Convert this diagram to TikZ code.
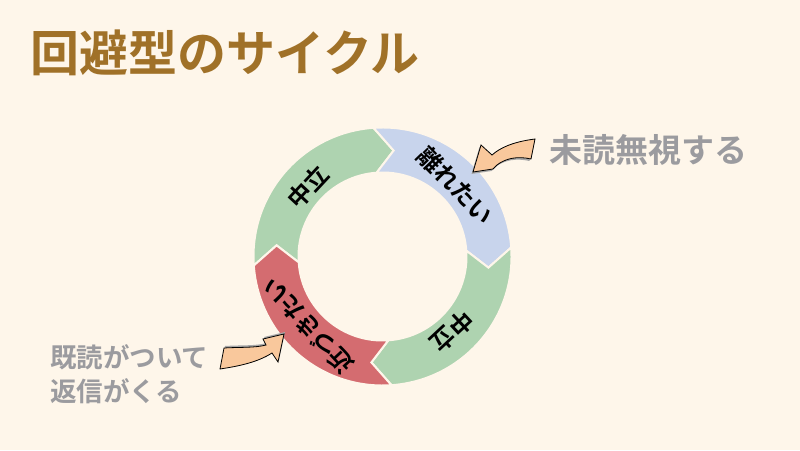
\documentclass[tikz,border=0pt]{standalone}
\usepackage{fontspec}
\setmainfont{Noto Sans CJK JP}[BoldFont={Noto Sans CJK JP Bold}]
\definecolor{paper}{HTML}{FEF6EA}
\definecolor{titlebrown}{HTML}{A07128}
\definecolor{notegray}{HTML}{9B9B9F}
\definecolor{calmgreen}{HTML}{AED3B0}
\definecolor{awayblue}{HTML}{C8D4EC}
\definecolor{nearred}{HTML}{D46C70}
\definecolor{peach}{HTML}{F9C89C}
\begin{document}
\begin{tikzpicture}[
  x=1pt, y=1pt,
  seg/.style={draw=paper, line width=2pt, line join=miter},
  seglbl/.style={font=\fontsize{24}{24}\selectfont\bfseries, inner sep=0pt},
  note/.style={font=\fontsize{26.5}{34}\selectfont\bfseries, text=notegray, align=left, inner sep=0pt, anchor=west},
  callout/.style={fill=peach, draw=black, line width=0.8pt, line join=miter},
  calloutshadow/.style={fill=black!35}
]
\useasboundingbox (0,0) rectangle (800,450);
\fill[paper] (0,0) rectangle (800,450);

% title
\node[font=\fontsize{49}{49}\selectfont\bfseries, text=titlebrown, anchor=west, inner sep=0pt] (title) at (30,397) {回避型のサイクル};

% ring of four arrow segments
\coordinate (c) at (382.5,193.5);
\path[seg, fill=calmgreen, shift={(c)}] (184:129) arc[start angle=184, end angle=94, radius=129pt] -- (84:106.5) -- (94:84) arc[start angle=94, end angle=184, radius=84pt] -- (174:106.5) -- cycle;
\path[seg, fill=awayblue, shift={(c)}] (94:129) arc[start angle=94, end angle=4, radius=129pt] -- (-6:106.5) -- (4:84) arc[start angle=4, end angle=94, radius=84pt] -- (84:106.5) -- cycle;
\path[seg, fill=calmgreen, shift={(c)}] (4:129) arc[start angle=4, end angle=-86, radius=129pt] -- (-96:106.5) -- (-86:84) arc[start angle=-86, end angle=4, radius=84pt] -- (-6:106.5) -- cycle;
\path[seg, fill=nearred, shift={(c)}] (-86:129) arc[start angle=-86, end angle=-176, radius=129pt] -- (-186:106.5) -- (-176:84) arc[start angle=-176, end angle=-86, radius=84pt] -- (-96:106.5) -- cycle;

% segment labels
\node[seglbl, rotate=47] (calm1) at ([shift={(137:102)}]c) {中立};
\node[seglbl, rotate=-46] (away) at ([shift={(44:102)}]c) {離れたい};
\node[seglbl, rotate=-137] (calm2) at ([shift={(-47:102)}]c) {中立};
\node[seglbl, rotate=133] (near) at ([shift={(223:102)}]c) {近づきたい};

% notes
\node[note, font=\fontsize{33}{33}\selectfont\bfseries] (ignore) at (549,300) {未読無視する};
\node[note] (reply) at (50,76) {既読がついて\\返信がくる};

% curved callout arrows
\fill[calloutshadow, shift={(-1.5,-2)}] (535,311) .. controls (512,308) and (500,302) .. (492,295) -- (481,305) -- (473,278) -- (493,281) -- (497,285) .. controls (506,292) and (518,294) .. (531,291) -- cycle;
\path[callout] (535,311) .. controls (512,308) and (500,302) .. (492,295) -- (481,305) -- (473,278) -- (493,281) -- (497,285) .. controls (506,292) and (518,294) .. (531,291) -- cycle;
\fill[calloutshadow, shift={(1,2)}] (224,102) .. controls (240,103) and (255,102) .. (266,105) -- (263,111) -- (284,116) -- (278,88) -- (272,97) .. controls (258,88) and (240,84) .. (220,81) -- cycle;
\path[callout] (224,102) .. controls (240,103) and (255,102) .. (266,105) -- (263,111) -- (284,116) -- (278,88) -- (272,97) .. controls (258,88) and (240,84) .. (220,81) -- cycle;
\end{tikzpicture}
\end{document}
